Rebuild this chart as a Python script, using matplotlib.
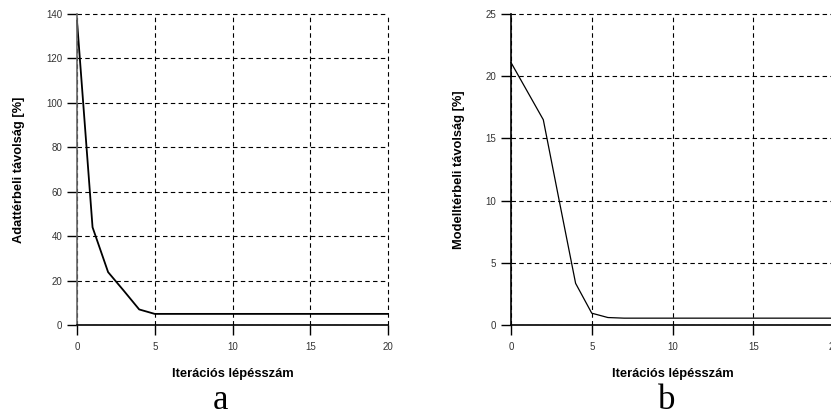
import matplotlib
matplotlib.use('Agg')
import matplotlib.pyplot as plt

plt.rcParams['font.family'] = ['Liberation Sans', 'DejaVu Sans']

# data
iter_a = [0, 1, 2, 3, 4, 5, 10, 15, 20]
dist_a = [137, 44, 23.8, 15.5, 7.0, 5.0, 5.0, 5.0, 5.0]
iter_b = [0, 1, 2, 3, 4, 5, 6, 7, 10, 15, 20]
dist_b = [21.1, 18.8, 16.5, 9.9, 3.35, 0.95, 0.6, 0.55, 0.55, 0.55, 0.55]

xticks = [0, 5, 10, 15, 20]
yticks_a = [0, 20, 40, 60, 80, 100, 120, 140]
yticks_b = [0, 5, 10, 15, 20, 25]

xlabel = 'Iterációs lépésszám'
ylabel_a = 'Adattérbeli távolság [%]'
ylabel_b = 'Modelltérbeli távolság [%]'

fig = plt.figure(figsize=(8.31, 4.12), dpi=100)
W, H = 831, 412


def make_axes(x0, x1, y0, y1):
    return fig.add_axes([x0 / W, 1 - y1 / H, (x1 - x0) / W, (y1 - y0) / H])


def style(ax, yticks, ylabel, left_color):
    ax.set_xlim(0, 20)
    ax.set_ylim(yticks[0], yticks[-1])
    ax.set_xticks(xticks)
    ax.set_yticks(yticks)
    ax.grid(True, color='black', linestyle=(0, (4, 3)), linewidth=0.8)
    # keep the grid lines on the upper/right limits fully visible
    ax.get_xgridlines()[-1].set_clip_on(False)
    ax.get_ygridlines()[-1].set_clip_on(False)
    ax.set_axisbelow(True)
    for s in ['top', 'right']:
        ax.spines[s].set_visible(False)
    ax.spines['left'].set_color(left_color)
    ax.spines['left'].set_linewidth(1.2)
    ax.spines['bottom'].set_linewidth(1.2)
    ax.tick_params(direction='out', length=7, width=1.0, labelsize=7,
                   labelcolor='#333333')
    ax.tick_params(axis='y', pad=3.6)
    ax.tick_params(axis='x', pad=5)
    ax.set_xlabel(xlabel, fontsize=9.3, fontweight='bold', labelpad=11.5)
    ax.set_ylabel(ylabel, fontsize=9.3, fontweight='bold', labelpad=15)


ax1 = make_axes(77, 388, 14, 325)
ax1.plot(iter_a, dist_a, color='black', linewidth=1.3, clip_on=False)
style(ax1, yticks_a, ylabel_a, '#666666')

ax2 = make_axes(511, 834, 14, 325)
ax2.plot(iter_b, dist_b, color='black', linewidth=0.9, clip_on=False)
style(ax2, yticks_b, ylabel_b, 'black')

fig.text(220 / W, 1 - 409 / H, 'a', family=['Liberation Serif', 'DejaVu Serif'],
         fontsize=25, ha='center', va='baseline')
fig.text(667 / W, 1 - 409 / H, 'b', family=['Liberation Serif', 'DejaVu Serif'],
         fontsize=25, ha='center', va='baseline')

fig.savefig('out.png', dpi=100)
